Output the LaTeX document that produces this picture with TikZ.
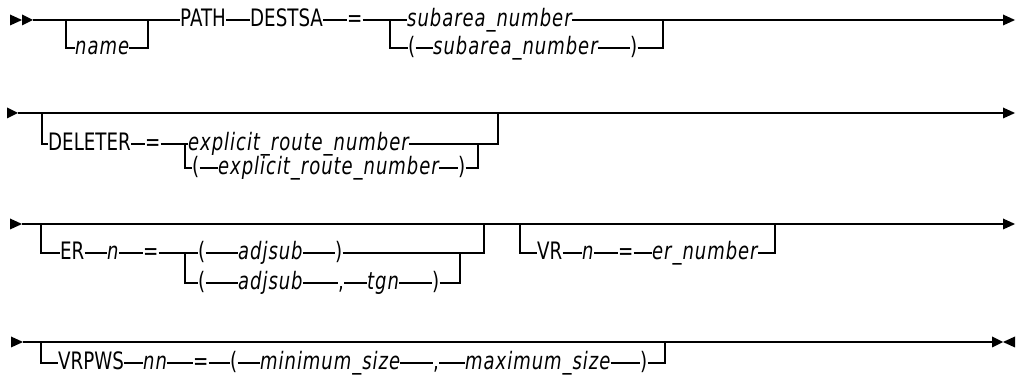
\documentclass[tikz,border=0pt]{standalone}
\usepackage{fontspec}
\usepackage{tikz}
\usetikzlibrary{positioning}
\newfontfamily\railfont[FakeStretch=0.76]{DejaVu Sans}
\newfontfamily\railvar[FakeStretch=0.75,LetterSpace=4]{DejaVu Sans}

\begin{document}
\railfont\fontsize{24}{26}\selectfont
\begin{tikzpicture}[
  x=1pt, y=-1pt,
  font=\railfont\fontsize{24}{26}\selectfont,
  rail/.style={line width=1.2pt},
  kw/.style={anchor=mid west, inner sep=0pt, text height=17pt, text depth=0pt},
  var/.style={kw, font=\railvar\itshape\fontsize{24}{26}\selectfont}
]
  \useasboundingbox (0,0) rectangle (1018,387);

  % Alturas de las vías
  \pgfmathsetmacro{\ya}{20}
  \pgfmathsetmacro{\yb}{48}
  \pgfmathsetmacro{\yc}{113}
  \pgfmathsetmacro{\yd}{144}
  \pgfmathsetmacro{\ye}{168}
  \pgfmathsetmacro{\yf}{224}
  \pgfmathsetmacro{\yg}{253}
  \pgfmathsetmacro{\yh}{283}
  \pgfmathsetmacro{\yi}{342}
  \pgfmathsetmacro{\yj}{363}

  % --- Vía 1: name, PATH DESTSA ---
  \coordinate (s0) at (22,\ya);
  \coordinate (s1) at (33,\ya);
  \coordinate (n1) at (66,\ya);
  \coordinate (n2) at (148,\ya);
  \coordinate (j1) at (390,\ya);
  \coordinate (j2) at (663,\ya);
  \coordinate (e1) at (1015,\ya);
  \coordinate (e1b) at (1003,\ya);

  \node[var] (name)   at (75,\yb)   {name};
  \node[kw]  (path)   at (180,\ya)  {PATH};
  \node[kw]  (destsa) at (250,\ya)  {DESTSA};
  \node[kw]  (eqa)    at (347,\ya)  {=};
  \node[var] (sub)    at (407,\ya)  {subarea\_number};
  \node[kw]  (lpa)    at (408,\yb)  {(};
  \node[var] (subb)   at (433,\yb)  {subarea\_number};
  \node[kw]  (rpa)    at (630,\yb)  {)};

  \fill (s0) -- ++(-12,-5.5) -- ++(0,11) -- cycle;
  \fill (s1) -- ++(-11,-5.5) -- ++(0,11) -- cycle;
  \draw[rail] (s1) -- (path.mid west);
  \draw[rail] (n1) |- (name.mid west);
  \draw[rail] (name.mid east) -| (n2);
  \draw[rail] (path.mid east) -- (destsa.mid west);
  \draw[rail] (destsa.mid east) -- (eqa.mid west);
  \draw[rail] (eqa.mid east) -- (sub.mid west);
  \draw[rail] (j1) |- (lpa.mid west);
  \draw[rail] (lpa.mid east) -- (subb.mid west);
  \draw[rail] (subb.mid east) -- (rpa.mid west);
  \draw[rail] (rpa.mid east) -| (j2);
  \draw[rail] (sub.mid east) -- (e1b);
  \fill (e1) -- ++(-12,-5.5) -- ++(0,11) -- cycle;

  % --- Vía 2: DELETER ---
  \coordinate (s2) at (18,\yc);
  \coordinate (k1) at (42,\yc);
  \coordinate (k2) at (498,\yc);
  \coordinate (k3) at (185,\yd);
  \coordinate (k4) at (478,\yd);
  \coordinate (e2) at (1015,\yc);
  \coordinate (e2b) at (1003,\yc);

  \node[kw]  (del)  at (48,\yd)  {DELETER};
  \node[kw]  (eqb)  at (145,\yd) {=};
  \node[var] (ern)  at (188,\yd) {explicit\_route\_number};
  \node[kw]  (lpb)  at (192,\ye) {(};
  \node[var] (ernb) at (218,\ye) {explicit\_route\_number};
  \node[kw]  (rpb)  at (458,\ye) {)};

  \fill (s2) -- ++(-11,-5.5) -- ++(0,11) -- cycle;
  \draw[rail] (s2) -- (e2b);
  \draw[rail] (k1) |- (del.mid west);
  \draw[rail] (del.mid east) -- (eqb.mid west);
  \draw[rail] (eqb.mid east) -- (ern.mid west);
  \draw[rail] (k3) |- (lpb.mid west);
  \draw[rail] (lpb.mid east) -- (ernb.mid west);
  \draw[rail] (ernb.mid east) -- (rpb.mid west);
  \draw[rail] (rpb.mid east) -| (k4);
  \draw[rail] (ern.mid east) -| (k2);
  \fill (e2) -- ++(-12,-5.5) -- ++(0,11) -- cycle;

  % --- Vía 3: ER y VR ---
  \coordinate (s3) at (22,\yf);
  \coordinate (m1) at (41,\yf);
  \coordinate (m2) at (484,\yf);
  \coordinate (m3) at (185,\yg);
  \coordinate (m4) at (460,\yg);
  \coordinate (v1) at (520,\yf);
  \coordinate (v2) at (775,\yf);
  \coordinate (e3) at (1015,\yf);
  \coordinate (e3b) at (1003,\yf);

  \node[kw]  (er)   at (60,\yg)  {ER};
  \node[var] (ern1) at (107,\yg) {n};
  \node[kw]  (eqc)  at (143,\yg) {=};
  \node[kw]  (lpc)  at (198,\yg) {(};
  \node[var] (adj)  at (238,\yg) {adjsub};
  \node[kw]  (rpc)  at (335,\yg) {)};
  \node[kw]  (lpd)  at (198,\yh) {(};
  \node[var] (adjb) at (238,\yh) {adjsub};
  \node[kw]  (comd) at (338,\yh) {,};
  \node[var] (tgn)  at (367,\yh) {tgn};
  \node[kw]  (rpd)  at (432,\yh) {)};

  \node[kw]  (vr)   at (537,\yg) {VR};
  \node[var] (vrn)  at (582,\yg) {n};
  \node[kw]  (eqv)  at (618,\yg) {=};
  \node[var] (ernum) at (652,\yg) {er\_number};

  \fill (s3) -- ++(-12,-5.5) -- ++(0,11) -- cycle;
  \draw[rail] (s3) -- (e3b);
  \draw[rail] (m1) |- (er.mid west);
  \draw[rail] (er.mid east) -- (ern1.mid west);
  \draw[rail] (ern1.mid east) -- (eqc.mid west);
  \draw[rail] (eqc.mid east) -- (lpc.mid west);
  \draw[rail] (lpc.mid east) -- (adj.mid west);
  \draw[rail] (adj.mid east) -- (rpc.mid west);
  \draw[rail] (rpc.mid east) -| (m2);
  \draw[rail] (m3) |- (lpd.mid west);
  \draw[rail] (lpd.mid east) -- (adjb.mid west);
  \draw[rail] (adjb.mid east) -- (comd.mid west);
  \draw[rail] (comd.mid east) -- (tgn.mid west);
  \draw[rail] (tgn.mid east) -- (rpd.mid west);
  \draw[rail] (rpd.mid east) -| (m4);
  \draw[rail] (v1) |- (vr.mid west);
  \draw[rail] (vr.mid east) -- (vrn.mid west);
  \draw[rail] (vrn.mid east) -- (eqv.mid west);
  \draw[rail] (eqv.mid east) -- (ernum.mid west);
  \draw[rail] (ernum.mid east) -| (v2);
  \fill (e3) -- ++(-12,-5.5) -- ++(0,11) -- cycle;

  % --- Vía 4: VRPWS ---
  \coordinate (s4) at (23,\yi);
  \coordinate (w1) at (41,\yi);
  \coordinate (w2) at (665,\yi);
  \coordinate (e4) at (1003,\yi);
  \coordinate (e4b) at (992,\yi);

  \node[kw]  (vrpws) at (58,\yj)  {VRPWS};
  \node[var] (nn)    at (143,\yj) {nn};
  \node[kw]  (eqw)   at (193,\yj) {=};
  \node[kw]  (lpw)   at (230,\yj) {(};
  \node[var] (minsz) at (260,\yj) {minimum\_size};
  \node[kw]  (comw)  at (433,\yj) {,};
  \node[var] (maxsz) at (465,\yj) {maximum\_size};
  \node[kw]  (rpw)   at (640,\yj) {)};

  \fill (s4) -- ++(-12,-5.5) -- ++(0,11) -- cycle;
  \draw[rail] (s4) -- (e4b);
  \draw[rail] (w1) |- (vrpws.mid west);
  \draw[rail] (vrpws.mid east) -- (nn.mid west);
  \draw[rail] (nn.mid east) -- (eqw.mid west);
  \draw[rail] (eqw.mid east) -- (lpw.mid west);
  \draw[rail] (lpw.mid east) -- (minsz.mid west);
  \draw[rail] (minsz.mid east) -- (comw.mid west);
  \draw[rail] (comw.mid east) -- (maxsz.mid west);
  \draw[rail] (maxsz.mid east) -- (rpw.mid west);
  \draw[rail] (rpw.mid east) -| (w2);
  \fill (e4) -- ++(-11,-5.5) -- ++(0,11) -- cycle;
  \fill (e4) -- ++(12,-5.5) -- ++(0,11) -- cycle;

\end{tikzpicture}
\end{document}
